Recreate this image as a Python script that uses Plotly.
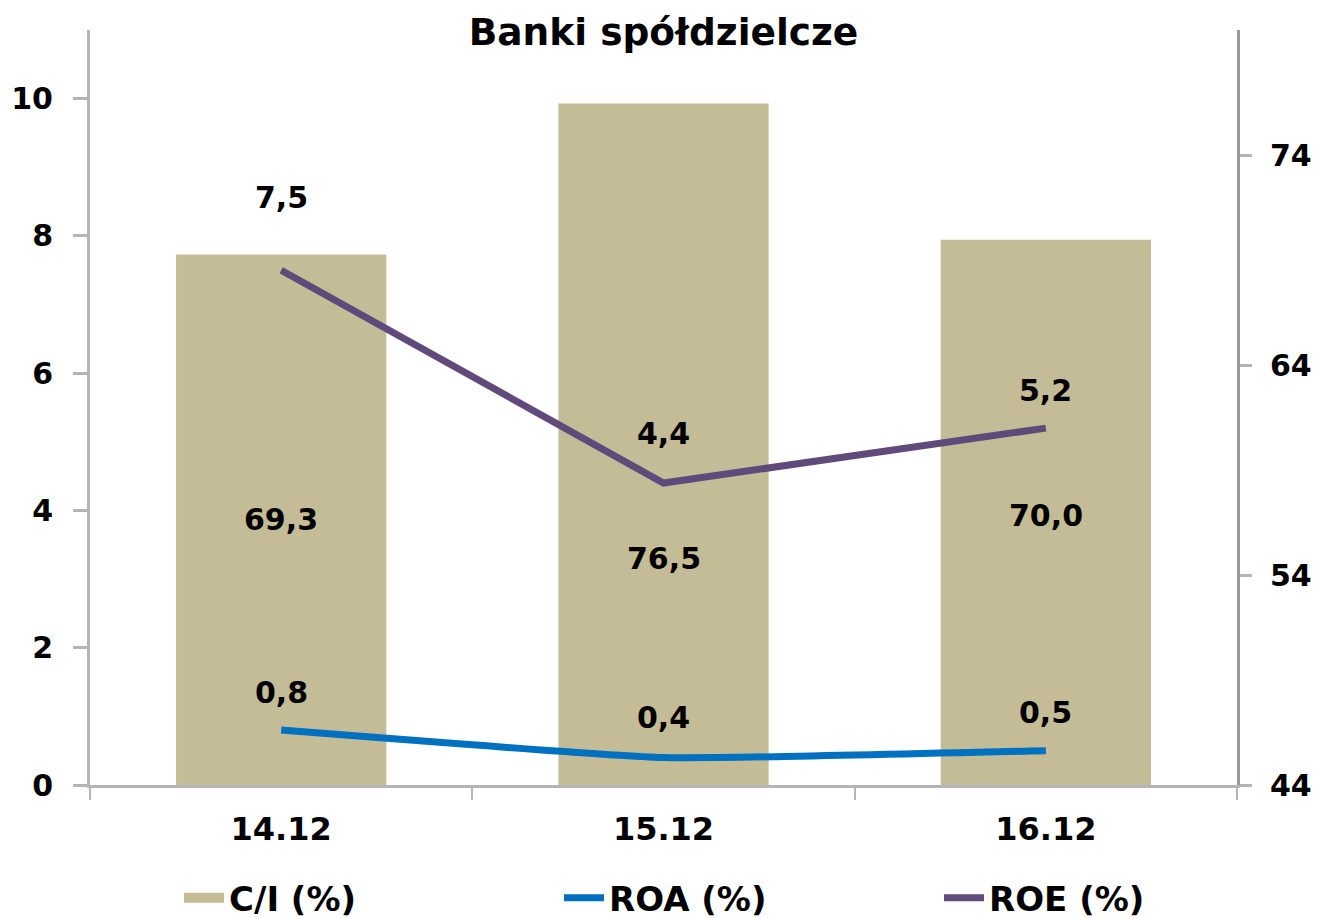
import plotly.graph_objects as go

categories = ["14.12", "15.12", "16.12"]
ci = [69.3, 76.5, 70.0]
roa = [0.8, 0.4, 0.5]
roe = [7.5, 4.4, 5.2]

title_text = "Banki spółdzielcze"
left_ticks = [0, 2, 4, 6, 8, 10]
right_ticks = [44, 54, 64, 74]

FONT = "DejaVu Sans"
BAR_C = "#C4BC96"
ROA_C = "#0070C0"
ROE_C = "#604A7B"
AX_C = "#b5b5b5"


def fmt(v):
    return f"{v:.1f}".replace(".", ",")


fig = go.Figure()
# bars on primary axis (right side) so the lines are drawn above them
fig.add_trace(go.Bar(x=categories, y=[v - 44 for v in ci], base=44, name="C/I (%)",
                     marker=dict(color=BAR_C, line=dict(width=0)), yaxis="y",
                     hoverinfo="skip", showlegend=False, legendgroup="ci"))
# legend entry for the bars, drawn as a wide swatch like the original
fig.add_trace(go.Scatter(x=[None], y=[None], name="C/I (%)", mode="lines",
                         line=dict(color=BAR_C, width=18), yaxis="y",
                         legendgroup="ci", showlegend=True))
fig.add_trace(go.Scatter(x=categories, y=roa, name="ROA (%)", mode="lines",
                         line=dict(color=ROA_C, width=7, shape="spline", smoothing=0.4),
                         yaxis="y2"))
fig.add_trace(go.Scatter(x=categories, y=roe, name="ROE (%)", mode="lines",
                         line=dict(color=ROE_C, width=7), yaxis="y2"))

annotations = []
lab_font = dict(family=FONT, size=30, color="black", weight="bold")
bar_shift = [0, -114, -3]
for i, (v, s) in enumerate(zip(ci, bar_shift)):
    annotations.append(dict(x=i, y=(44 + v) / 2, xref="x", yref="y", text=fmt(v),
                            showarrow=False, yshift=s, font=lab_font))
roe_shift = [73, 50, 38]
for i, (v, s) in enumerate(zip(roe, roe_shift)):
    annotations.append(dict(x=i, y=v, xref="x", yref="y2", text=fmt(v),
                            showarrow=False, yshift=s, font=lab_font))
roa_shift = [38, 40, 38]
for i, (v, s) in enumerate(zip(roa, roa_shift)):
    annotations.append(dict(x=i, y=v, xref="x", yref="y2", text=fmt(v),
                            showarrow=False, yshift=s, font=lab_font))

xtick_font = dict(family=FONT, size=32, color="black", weight="bold")
ytick_font = dict(family=FONT, size=30, color="black", weight="bold")

# the page adds an 8px body margin, so the figure is 8px smaller than the window
W, H = 1311, 910
fig.update_layout(
    width=W, height=H,
    margin=dict(l=82, r=82, t=22, b=133, autoexpand=False),
    paper_bgcolor="white", plot_bgcolor="white",
    font=dict(family=FONT, size=32, color="black", weight="bold"),
    title=dict(text=title_text, x=0.5, xref="paper", xanchor="center",
               y=1 - 24 / H, yref="container", yanchor="middle",
               font=dict(family=FONT, size=37.5, color="black", weight="bold")),
    bargap=0.45,
    showlegend=True,
    legend=dict(orientation="h", x=0.0776, xanchor="left", y=-0.15, yanchor="middle",
                font=dict(family=FONT, size=34, color="black", weight="bold"),
                entrywidth=325, entrywidthmode="pixels", bgcolor="rgba(0,0,0,0)",
                traceorder="normal", itemwidth=40),
    xaxis=dict(type="category", range=[-0.5, 2.5], showgrid=False, showline=True,
               linecolor=AX_C, linewidth=3, tickangle=0, automargin=False,
               ticks="outside", tickson="boundaries", ticklen=12, tickwidth=2, tickcolor=AX_C,
               tickfont=xtick_font, ticklabelstandoff=14, zeroline=False),
    yaxis=dict(side="right", range=[44, 80], tickvals=right_ticks, showgrid=False,
               showline=True, linecolor="#9a9a9a", linewidth=3, ticks="outside",
               ticklen=12, tickwidth=3, tickcolor=AX_C, tickfont=ytick_font,
               ticklabelstandoff=12, zeroline=False, automargin=False),
    yaxis2=dict(side="left", overlaying="y", range=[0, 11], tickvals=left_ticks,
                showgrid=False, showline=True, linecolor=AX_C, linewidth=3,
                ticks="outside", ticklen=14, tickwidth=3, tickcolor=AX_C,
                tickfont=ytick_font, ticklabelstandoff=14, zeroline=False, automargin=False),
    annotations=annotations,
)

fig.write_html("out.html")
